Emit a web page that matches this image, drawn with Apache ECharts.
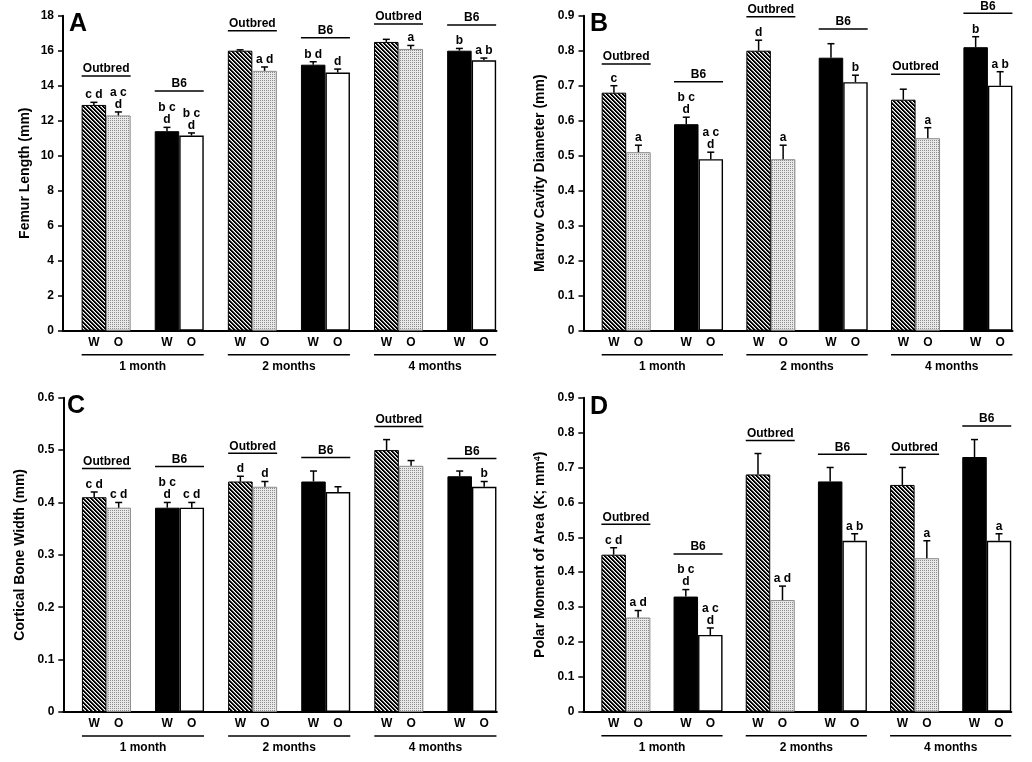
<!DOCTYPE html>
<html>
<head>
<meta charset="utf-8">
<script src="https://cdn.jsdelivr.net/npm/echarts@6/dist/echarts.min.js"></script>
<style>
html,body{margin:0;padding:0;background:#fff;}
#chart{width:1032px;height:762px;}
</style>
</head>
<body>
<div id="chart"></div>
<script>
// ---------------- DATA ----------------
const months = ['1 month', '2 months', '4 months'];
const strainNames = ['Outbred', 'B6'];
const dietNames = ['W', 'O'];
// rows: Outbred W, Outbred O, B6 W, B6 O ; columns: months
const femurMean = [[12.9, 16.0, 16.5], [12.3, 14.85, 16.1], [11.4, 15.2, 16.0], [11.15, 14.75, 15.45]];
const femurErr = [[0.15, 0.05, 0.15], [0.2, 0.22, 0.2], [0.22, 0.17, 0.13], [0.15, 0.2, 0.13]];
const femurLetters = [['c d', '', ''], ['a c\nd', 'a d', 'a'], ['b c\nd', 'b d', 'b'], ['b c\nd', 'd', 'a b']];

const marrowMean = [[0.68, 0.80, 0.66], [0.51, 0.49, 0.55], [0.59, 0.78, 0.81], [0.49, 0.71, 0.70]];
const marrowErr = [[0.02, 0.03, 0.03], [0.02, 0.04, 0.03], [0.02, 0.04, 0.03], [0.02, 0.02, 0.04]];
const marrowLetters = [['c', 'd', ''], ['a', 'a', 'a'], ['b c\nd', '', 'b'], ['a c\nd', 'b', 'a b']];

const corticalMean = [[0.41, 0.44, 0.50], [0.39, 0.43, 0.47], [0.39, 0.44, 0.45], [0.39, 0.42, 0.43]];
const corticalErr = [[0.01, 0.01, 0.02], [0.01, 0.01, 0.01], [0.01, 0.02, 0.01], [0.01, 0.01, 0.01]];
const corticalLetters = [['c d', 'd', ''], ['c d', 'd', ''], ['b c\nd', '', ''], ['c d', '', 'b']];

const polarMean = [[0.45, 0.68, 0.65], [0.27, 0.32, 0.44], [0.33, 0.66, 0.73], [0.22, 0.49, 0.49]];
const polarErr = [[0.02, 0.06, 0.05], [0.02, 0.04, 0.05], [0.02, 0.04, 0.05], [0.02, 0.02, 0.02]];
const polarLetters = [['c d', '', ''], ['a d', 'a d', 'a'], ['b c\nd', '', ''], ['a c\nd', 'a b', 'a']];

// y axis ranges: [min, max, interval]
const femurAxis = [0, 18, 2];
const marrowAxis = [0, 0.9, 0.1];
const corticalAxis = [0, 0.6, 0.1];
const polarAxis = [0, 0.9, 0.1];

// ---------------- LAYOUT ----------------
const FONT = '"Liberation Sans", Arial, Helvetica, sans-serif';
const X_MIN = 0.41, X_MAX = 6.34;
const BAR_W = 24.5;
// heights (data units) of strain label lines, pair order: 1mo Outbred, 1mo B6, 2mo Outbred, ...
const panels = [
  {letter: 'A', name: 'Femur Length (mm)', mean: femurMean, err: femurErr, letters: femurLetters, axis: femurAxis,
   grid: {left: 63, top: 15.7, width: 433.5, height: 315}, nameGap: 31, letterPos: [69, 12],
   strainLines: [14.55, 13.7, 17.14, 16.74, 17.53, 17.47]},
  {letter: 'B', name: 'Marrow Cavity Diameter (mm)', mean: marrowMean, err: marrowErr, letters: marrowLetters, axis: marrowAxis,
   grid: {left: 583.5, top: 15.7, width: 429, height: 315}, nameGap: 36, letterPos: [590, 12],
   strainLines: [0.762, 0.711, 0.897, 0.862, 0.733, 0.907]},
  {letter: 'C', name: 'Cortical Bone Width (mm)', mean: corticalMean, err: corticalErr, letters: corticalLetters, axis: corticalAxis,
   grid: {left: 63.3, top: 397.7, width: 433.5, height: 314.3}, nameGap: 36, letterPos: [67, 394],
   strainLines: [0.465, 0.4685, 0.494, 0.486, 0.545, 0.484]},
  {letter: 'D', name: 'Polar Moment of Area (K; mm{sup|4})', mean: polarMean, err: polarErr, letters: polarLetters, axis: polarAxis,
   grid: {left: 583.3, top: 397.7, width: 428, height: 314}, nameGap: 36, letterPos: [590, 395],
   strainLines: [0.537, 0.452, 0.777, 0.738, 0.738, 0.819]}
];

function makeTile(size, fn) {
  const c = document.createElement('canvas');
  c.width = size; c.height = size;
  const g = c.getContext('2d');
  for (let y = 0; y < size; y++) for (let x = 0; x < size; x++) {
    g.fillStyle = fn(x, y); g.fillRect(x, y, 1, 1);
  }
  return c;
}
const hatchTile = makeTile(4, (x, y) => {
  const k = (((x - y) % 4) + 4) % 4;
  return k < 2 ? '#000' : (k === 2 ? '#8a8a8a' : '#fff');
});
const dotTile = makeTile(2, (x, y) => (x === 0 && y === 0) ? '#8c8c8c' : '#e9e9e9');

const barStyles = [
  {color: {image: hatchTile, repeat: 'repeat'}, borderColor: '#000', borderWidth: 1},
  {color: {image: dotTile, repeat: 'repeat'}, borderColor: '#8a8a8a', borderWidth: 1},
  {color: '#000', borderColor: '#000', borderWidth: 1},
  {color: '#fff', borderColor: '#000', borderWidth: 1.4}
];

const grids = [], xAxes = [], yAxes = [], series = [], graphics = [];

panels.forEach((p, pi) => {
  grids.push(Object.assign({containLabel: false}, p.grid));
  const unitPx = p.grid.width / (X_MAX - X_MIN);
  const half = (BAR_W / 2) / unitPx;
  xAxes.push({
    gridIndex: pi, type: 'value', min: X_MIN, max: X_MAX,
    axisLine: {show: true, onZero: false, lineStyle: {color: '#000', width: 2}},
    axisTick: {show: false}, axisLabel: {show: false}, splitLine: {show: false}
  });
  yAxes.push({
    gridIndex: pi, type: 'value', min: p.axis[0], max: p.axis[1], interval: p.axis[2],
    name: p.name, nameLocation: 'middle', nameGap: p.nameGap,
    nameTextStyle: {fontFamily: FONT, fontWeight: 'bold', fontSize: 14, color: '#000',
      rich: {sup: {fontFamily: FONT, fontWeight: 'bold', fontSize: 9, color: '#000', verticalAlign: 'top', lineHeight: 10}}},
    axisLine: {show: true, lineStyle: {color: '#000', width: 2}},
    axisTick: {show: true, length: 5, lineStyle: {color: '#000', width: 1.5}},
    axisLabel: {fontFamily: FONT, fontWeight: 'bold', fontSize: 12, color: '#000', margin: 9},
    splitLine: {show: false}
  });

  const errData = [], errLetters = [], labelData = [];
  for (let s = 0; s < 4; s++) {
    const strain = Math.floor(s / 2), diet = s % 2;
    const data = [];
    for (let g = 0; g < 3; g++) {
      const x = 2 * g + strain + 1 + (diet === 0 ? -half : half);
      data.push([x, p.mean[s][g]]);
      errData.push([x, p.mean[s][g], p.err[s][g]]);
      errLetters.push(p.letters[s][g]);
      labelData.push([x, 0, diet]);
    }
    series.push({
      type: 'bar', name: strainNames[strain] + ' ' + dietNames[diet],
      xAxisIndex: pi, yAxisIndex: pi, data: data,
      barWidth: BAR_W, barGap: '-100%', itemStyle: barStyles[s], z: 2,
      emphasis: {disabled: true}, silent: true
    });
  }
  // error bars + significance letters
  series.push({
    type: 'custom', xAxisIndex: pi, yAxisIndex: pi, clip: false, z: 3, silent: true,
    encode: {x: 0, y: 1}, data: errData,
    renderItem: function (params, api) {
      const x = api.value(0), m = api.value(1), e = api.value(2);
      const p0 = api.coord([x, m]), p1 = api.coord([x, m + e]);
      const txt = errLetters[params.dataIndex];
      const children = [
        {type: 'line', shape: {x1: p0[0], y1: p0[1], x2: p1[0], y2: p1[1]}, style: {stroke: '#000', lineWidth: 1.5}},
        {type: 'line', shape: {x1: p1[0] - 3.5, y1: p1[1], x2: p1[0] + 3.5, y2: p1[1]}, style: {stroke: '#000', lineWidth: 1.5}}
      ];
      if (txt) children.push({type: 'text', style: {text: txt, x: p1[0], y: p1[1] - 1.5,
        textAlign: 'center', textVerticalAlign: 'bottom', align: 'center', verticalAlign: 'bottom',
        font: 'bold 12px ' + FONT, lineHeight: 12, fill: '#000'}});
      return {type: 'group', children: children};
    }
  });
  // strain labels over each pair
  const strainData = [];
  for (let k = 0; k < 6; k++) strainData.push([k + 1, p.strainLines[k], k % 2]);
  series.push({
    type: 'custom', xAxisIndex: pi, yAxisIndex: pi, clip: false, z: 3, silent: true,
    encode: {x: 0, y: 1}, data: strainData,
    renderItem: function (params, api) {
      const c = api.coord([api.value(0), api.value(1)]);
      return {type: 'group', children: [
        {type: 'line', shape: {x1: c[0] - BAR_W, y1: c[1], x2: c[0] + BAR_W, y2: c[1]}, style: {stroke: '#000', lineWidth: 1.5}},
        {type: 'text', style: {text: strainNames[api.value(2)], x: c[0], y: c[1] - 1,
          textAlign: 'center', textVerticalAlign: 'bottom', align: 'center', verticalAlign: 'bottom',
          font: 'bold 12px ' + FONT, fill: '#000'}}
      ]};
    }
  });
  // W / O labels under bars
  series.push({
    type: 'custom', xAxisIndex: pi, yAxisIndex: pi, clip: false, z: 3, silent: true,
    encode: {x: 0, y: 1}, data: labelData,
    renderItem: function (params, api) {
      const c = api.coord([api.value(0), 0]);
      return {type: 'text', style: {text: dietNames[api.value(2)], x: c[0], y: c[1] + 12,
        textAlign: 'center', textVerticalAlign: 'middle', align: 'center', verticalAlign: 'middle',
        font: 'bold 12px ' + FONT, fill: '#000'}};
    }
  });
  // month groups
  const monthData = months.map((m, g) => [2 * g + 1, 2 * g + 2, g]);
  series.push({
    type: 'custom', xAxisIndex: pi, yAxisIndex: pi, clip: false, z: 3, silent: true,
    encode: {x: 0}, data: monthData,
    renderItem: function (params, api) {
      const a = api.coord([api.value(0), 0]), b = api.coord([api.value(1), 0]);
      const l = a[0] - BAR_W, r = b[0] + BAR_W, y = a[1];
      return {type: 'group', children: [
        {type: 'line', shape: {x1: l, y1: y + 24, x2: r, y2: y + 24}, style: {stroke: '#000', lineWidth: 1.5}},
        {type: 'text', style: {text: months[api.value(2)], x: (l + r) / 2, y: y + 35.5,
          textAlign: 'center', textVerticalAlign: 'middle', align: 'center', verticalAlign: 'middle',
          font: 'bold 12px ' + FONT, fill: '#000'}}
      ]};
    }
  });

  graphics.push({type: 'text', x: p.letterPos[0], y: p.letterPos[1],
    style: {text: p.letter, font: 'bold 25px ' + FONT, fill: '#000'}});
});

const chart = echarts.init(document.getElementById('chart'), null, {renderer: 'canvas'});
chart.setOption({
  animation: false,
  backgroundColor: '#fff',
  grid: grids, xAxis: xAxes, yAxis: yAxes, series: series, graphic: graphics
});
</script>
</body>
</html>
